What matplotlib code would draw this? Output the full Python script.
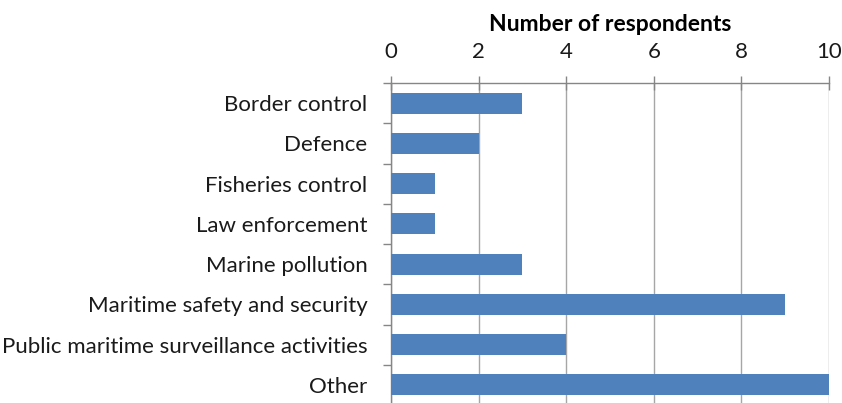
import numpy as np
import matplotlib.pyplot as plt

plt.rcParams['font.family'] = ['Lato', 'DejaVu Sans']

categories = ['Border control', 'Defence', 'Fisheries control', 'Law enforcement',
              'Marine pollution', 'Maritime safety and security',
              'Public maritime surveillance activities', 'Other']
values = [3, 2, 1, 1, 3, 9, 4, 10]
xticks = [0, 2, 4, 6, 8, 10]

fig = plt.figure(figsize=(8.42, 4.03), dpi=100)
ax = fig.add_axes([391/842, -2/403, 438/842, 322/403])

y = np.arange(len(categories))
ax.barh(y, values, height=0.52, color='#4F81BD', zorder=3)

ax.set_ylim(len(categories) - 0.5, -0.5)
ax.set_xlim(0, 10)
ax.set_yticks(y)
ax.set_yticklabels(categories, fontsize=16, color='#1a1a1a')
ax.set_yticks(np.arange(len(categories) + 1) - 0.5, minor=True)
ax.tick_params(axis='y', which='major', length=0, pad=17)
ax.tick_params(axis='y', which='minor', length=6, color='#868686', width=1)

ax.xaxis.tick_top()
ax.xaxis.set_label_position('top')
ax.set_xticks(xticks)
ax.set_xticklabels([str(v) for v in xticks], fontsize=16, color='#1a1a1a')
ax.tick_params(axis='x', direction='inout', length=10, color='#868686', width=1, pad=10)
ax.set_xlabel('Number of respondents', fontsize=16.5, fontweight='bold', labelpad=8)

ax.grid(axis='x', color='#A6A6A6', linewidth=1, zorder=0)
for s in ['right', 'bottom']:
    ax.spines[s].set_visible(False)
for s in ['top', 'left']:
    ax.spines[s].set_color('#868686')
    ax.spines[s].set_linewidth(1)

fig.savefig('out.png', dpi=100)
